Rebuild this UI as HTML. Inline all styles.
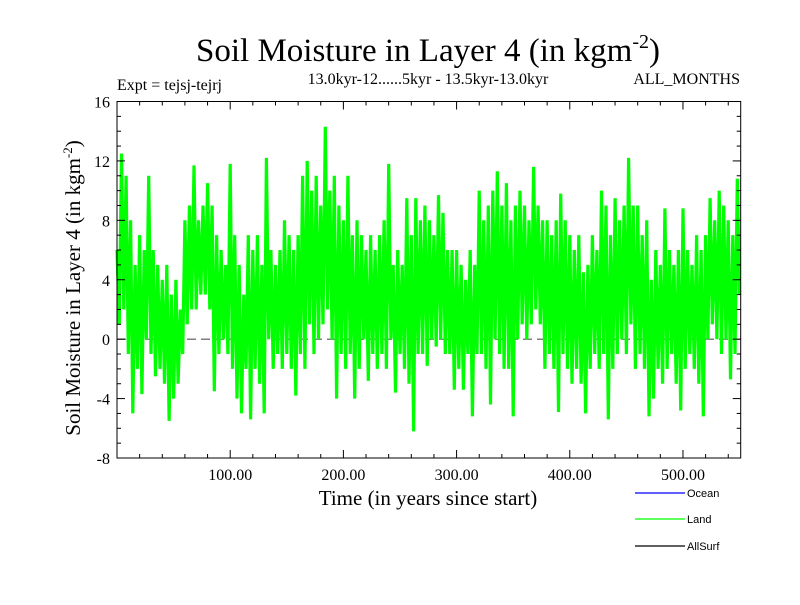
<!DOCTYPE html>
<html><head><meta charset="utf-8"><style>
body{margin:0;background:#fff;}
svg text{font-family:"Liberation Serif",serif;fill:#000;}
</style></head><body>
<svg id="chart" width="800" height="600" xmlns="http://www.w3.org/2000/svg">
<text x="428" y="61" text-anchor="middle" font-size="33">Soil Moisture in Layer 4 (in kgm<tspan dy="-13" font-size="20">-2</tspan><tspan dy="13">)</tspan></text>
<text x="117" y="90" font-size="16">Expt = tejsj-tejrj</text>
<text x="428" y="84" text-anchor="middle" font-size="16">13.0kyr-12......5kyr - 13.5kyr-13.0kyr</text>
<text x="740" y="84" text-anchor="end" font-size="16">ALL_MONTHS</text>
<text transform="translate(80,288) rotate(-90)" text-anchor="middle" font-size="21">Soil Moisture in Layer 4 (in kgm<tspan dy="-8" font-size="13">-2</tspan><tspan dy="8">)</tspan></text>
<text x="428" y="505" text-anchor="middle" font-size="21">Time (in years since start)</text>
<g id="plot"></g>
<g>
<line x1="635" y1="493" x2="685" y2="493" stroke="#0000ff" stroke-width="1.3"/>
<text x="687" y="497" font-size="11" style="font-family:'Liberation Sans',sans-serif">Ocean</text>
<line x1="635" y1="519" x2="685" y2="519" stroke="#00ff00" stroke-width="1.3"/>
<text x="687" y="523" font-size="11" style="font-family:'Liberation Sans',sans-serif">Land</text>
<line x1="635" y1="546" x2="685" y2="546" stroke="#000" stroke-width="1.3"/>
<text x="687" y="550" font-size="11" style="font-family:'Liberation Sans',sans-serif">AllSurf</text>
</g>
</svg>
<script>
const xTicks = [100, 200, 300, 400, 500];
const xTickLabels = ["100.00", "200.00", "300.00", "400.00", "500.00"];
const yTicks = [-8, -4, 0, 4, 8, 12, 16];
const yTickLabels = ["-8", "-4", "0", "4", "8", "12", "16"];
const yearStep = 2;
const landValues = [
6,1,12.5,2,11,-1,8,-5,5,-2,
7,-3.7,6,0,11,-1,6,-2.5,5,-2,
4,-3,5,-5.5,3,-4,4,-3,2,-1,
8,1,9,2,11.7,2,8,3,9,3,
10.5,2,9,-3.5,7,-1,6,0,5,-1,
11.8,-2,7,-4,5,-5,3,-2,7,-5.4,
6,-2,7,-3,5,-5,12.2,0,6,-2,
5,-1,6,-2,8,-1,7,-2,6,-3.8,
7,-1,11,-2,12,1,10,-1,11,0,
9,1,14.3,2,10,0,11,-4,9,-1,
8,-2,11,-1,7,-4,8,-2,7,0,
6,-2.8,7,-1,6,-2,7,-1,8,-2,
11.8,0,5,-3.6,6,-1,5,-2,9.5,-3,
7,-6.2,9.5,-1,8,-1,9,-1.8,8,0,
7,-0.5,9.7,0,8.5,-1,6,-1,6,-3.4,
6,-2,5,-3.4,4,-1,6,-5.2,5,-1,
10,-1,8,-2,9,-4.4,10,0,11.3,-1,
9,-2,10.5,-2,8,-5.2,9,0,10,1,
9,0,8,1,11.6,2,9,1,8,-2,
8,-1,7,-2,8,-4.9,9.8,-1,8,-2,
7,-3,6,-2,7,-3,4.5,-5,5,-2,
7,-1,6,-2,10,-1,9,-5.4,7,-2,
9.5,-1,8,0,9,-1,12.2,1,9,-2,
9,-1,7,-2,8,-5.2,4,-4,6,-2,
5,-3,8.8,-2,6,-1,5,-3,6,-4.8,
8.8,-2,6,-1,5,-2,7,-3,6,-5.2,
7,0,9.5,1,8,0,10,-1,9,0,
8,-2.7,7,-1,10.8,3
];
const X0=117, X1=740.7, Y0=101.5, Y1=458;
const xMin=0, xMax=551, yMin=-8, yMax=16;
function xs(v){return X0+(v-xMin)/(xMax-xMin)*(X1-X0);}
function ys(v){return Y1-(v-yMin)/(yMax-yMin)*(Y1-Y0);}
const NS="http://www.w3.org/2000/svg";
const g=document.getElementById('plot');
function mk(tag,attrs){const e=document.createElementNS(NS,tag);for(const k in attrs)e.setAttribute(k,attrs[k]);g.appendChild(e);return e;}
let z=mk('line',{x1:X0,x2:X1,y1:ys(0),y2:ys(0),stroke:'#555','stroke-dasharray':'9,5','stroke-width':1.2});


let pts=landValues.map((v,i)=>xs(i*yearStep).toFixed(1)+','+ys(v).toFixed(1)).join(' ');
let pl=mk('polyline',{points:pts,fill:'none',stroke:'#00ff00','stroke-width':3.2,'stroke-linejoin':'bevel'});


let fr=mk('rect',{x:X0,y:Y0,width:X1-X0,height:Y1-Y0,fill:'none',stroke:'#000','stroke-width':1});


for(let v=20;v<xMax;v+=20){
  const major=v%100===0, L=major?8:4, x=xs(v);
  mk('line',{x1:x,x2:x,y1:Y1,y2:Y1-L,stroke:'#000'});
  mk('line',{x1:x,x2:x,y1:Y0,y2:Y0+L,stroke:'#000'});
}
xTicks.forEach((v,i)=>{
  const t=mk('text',{x:xs(v),y:Y1+22,'text-anchor':'middle','font-size':16});
  t.textContent=xTickLabels[i];
  
  
});
for(let v=yMin+1;v<yMax;v++){
  const major=v%4===0, L=major?8:4, y=ys(v);
  mk('line',{x1:X0,x2:X0+L,y1:y,y2:y,stroke:'#000'});
  mk('line',{x1:X1,x2:X1-L,y1:y,y2:y,stroke:'#000'});
}
yTicks.forEach((v,i)=>{
  const t=mk('text',{x:X0-7,y:ys(v)+6,'text-anchor':'end','font-size':16});
  t.textContent=yTickLabels[i];
  
  
});
</script>
</body></html>
